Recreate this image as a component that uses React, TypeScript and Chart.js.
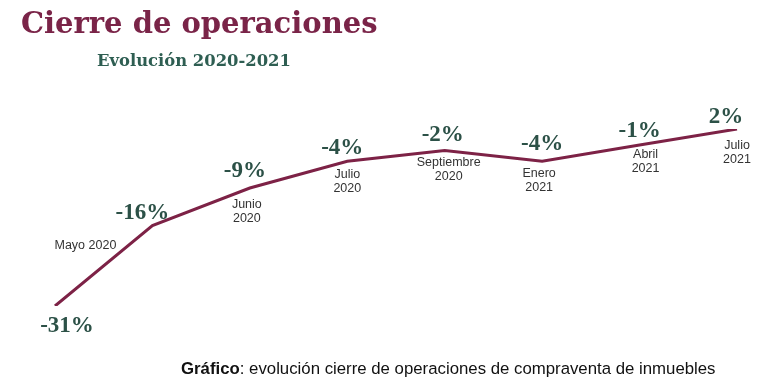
import React, { useEffect, useRef } from "react";
import { Chart, registerables } from "chart.js";

Chart.register(...registerables);

const categories = ["Abril 2020", "Mayo 2020", "Junio 2020", "Julio 2020", "Septiembre 2020", "Enero 2021", "Abril 2021", "Julio 2021"];
const dateLabels: string[][] = [[], ["Mayo 2020"], ["Junio", "2020"], ["Julio", "2020"], ["Septiembre", "2020"], ["Enero", "2021"], ["Abril", "2021"], ["Julio", "2021"]];
const values = [-31, -16, -9, -4, -2, -4, -1, 2];
const valueLabels = ["-31%", "-16%", "-9%", "-4%", "-2%", "-4%", "-1%", "2%"];

const TITLE = "Cierre de operaciones";
const SUBTITLE = "Evolución 2020-2021";
const CAPTION_BOLD = "Gráfico";
const CAPTION_REST = ": evolución cierre de operaciones de compraventa de inmuebles";

// label offsets (styling)
const valueOffsets = [[12, 26], [-10, -7], [-5, -11], [-5, -7], [-2, -9], [0, -11], [0, -8], [-11, -6]];
const dateOffsets = [[0, 0], [-67, 23], [-3, 20], [0, 17], [4, 16], [-3, 16], [6, 13], [0, 20]];

const labelPlugin = {
  id: "labels",
  afterDraw(chart: any) {
    const ctx = chart.ctx as CanvasRenderingContext2D;
    const meta = chart.getDatasetMeta(0);
    ctx.save();
    // title
    ctx.textAlign = "left";
    ctx.textBaseline = "alphabetic";
    ctx.fillStyle = "#7a2448";
    ctx.font = "bold 29px 'DejaVu Serif', serif";
    ctx.fillText(TITLE, 21, 33);
    ctx.fillStyle = "#2e5e52";
    ctx.font = "bold 16.4px 'DejaVu Serif', serif";
    ctx.fillText(SUBTITLE, 97, 66);
    // caption
    ctx.fillStyle = "#111";
    ctx.font = "bold 16.8px 'Liberation Sans', Arial, sans-serif";
    ctx.fillText(CAPTION_BOLD, 181, 374);
    const w = ctx.measureText(CAPTION_BOLD).width;
    ctx.font = "16.8px 'Liberation Sans', Arial, sans-serif";
    ctx.fillText(CAPTION_REST, 181 + w, 374);
    // point labels
    meta.data.forEach((pt: any, i: number) => {
      const x = pt.x, y = pt.y;
      ctx.textAlign = "center";
      ctx.fillStyle = "#2c5147";
      ctx.font = "bold 23px 'Liberation Serif', serif";
      ctx.fillText(valueLabels[i], x + valueOffsets[i][0], y + valueOffsets[i][1]);
      ctx.fillStyle = "#333";
      ctx.font = "12.5px 'Liberation Sans', Arial, sans-serif";
      dateLabels[i].forEach((line, j) => {
        ctx.fillText(line, x + dateOffsets[i][0], y + dateOffsets[i][1] + j * 14);
      });
    });
    ctx.restore();
  },
};

export default function App() {
  const ref = useRef<HTMLCanvasElement>(null);
  useEffect(() => {
    const chart = new Chart(ref.current!, {
      type: "line",
      data: {
        labels: categories,
        datasets: [
          {
            data: values,
            borderColor: "#7d2246",
            borderWidth: 3,
            pointRadius: 0,
            tension: 0,
            fill: false,
          },
        ],
      },
      options: {
        animation: false,
        responsive: false,
        devicePixelRatio: 1,
        layout: { padding: { left: 55, right: 31, top: 129, bottom: 81 } },
        plugins: { legend: { display: false }, tooltip: { enabled: false }, title: { display: false } },
        scales: {
          x: { display: false, offset: false },
          y: { display: false, min: -31, max: 2 },
        },
      },
      plugins: [labelPlugin],
    });
    return () => chart.destroy();
  }, []);
  return (
    <div style={{ position: "absolute", left: 0, top: 0, width: 768, height: 387, background: "#fff" }}>
      <canvas ref={ref} width={768} height={387} />
    </div>
  );
}
